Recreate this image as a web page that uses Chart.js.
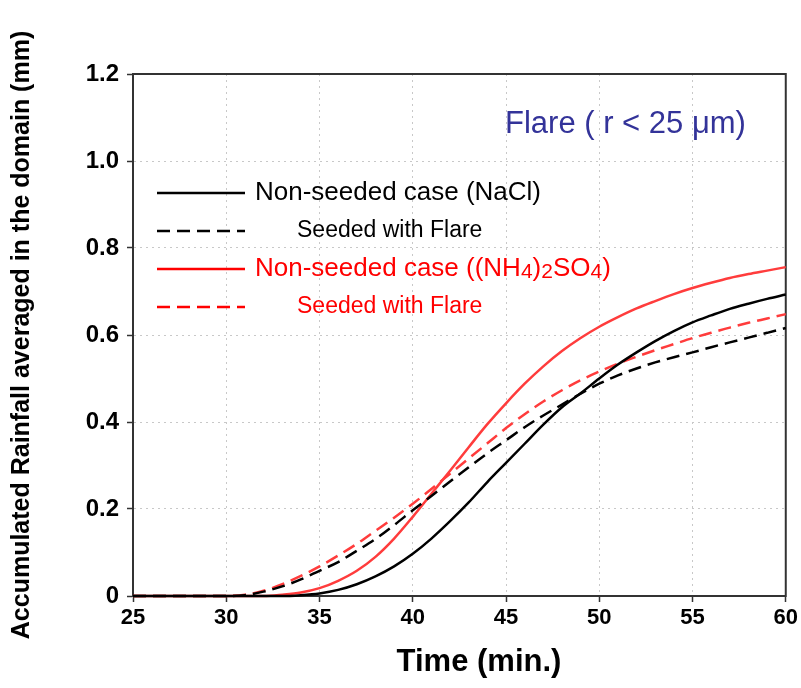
<!DOCTYPE html>
<html>
<head>
<meta charset="utf-8">
<script src="https://cdn.jsdelivr.net/npm/chart.js@4/dist/chart.umd.min.js"></script>
<style>
  html, body { margin: 0; padding: 0; background: #fff; }
  #wrap { width: 801px; height: 688px; }
</style>
</head>
<body>
<div id="wrap"><canvas id="grafico"></canvas></div>
<script>
// tiempo (min.)
const minutes = [25, 26, 27, 28, 29, 30, 31, 32, 33, 34, 35, 36, 37, 38, 39, 40, 41, 42,
  43, 44, 45, 46, 47, 48, 49, 50, 51, 52, 53, 54, 55, 56, 57, 58, 59, 60];

// lluvia acumulada (mm)
const nonSeededNaCl = [0, 0, 0, 0, 0, 0, 0, 0, 0, 0.002, 0.006, 0.014, 0.027, 0.045, 0.068, 0.097,
  0.132, 0.172, 0.215, 0.262, 0.306, 0.350, 0.394, 0.434, 0.466, 0.500, 0.532, 0.560, 0.586,
  0.609, 0.629, 0.645, 0.660, 0.672, 0.683, 0.693];
const seededNaCl = [0, 0, 0, 0, 0, 0, 0.002, 0.010, 0.022, 0.038, 0.058, 0.078, 0.104, 0.131,
  0.163, 0.197, 0.230, 0.263, 0.296, 0.328, 0.358, 0.388, 0.415, 0.440, 0.465, 0.488, 0.507,
  0.523, 0.537, 0.549, 0.560, 0.572, 0.583, 0.594, 0.605, 0.616];
const nonSeededNH4 = [0, 0, 0, 0, 0, 0, 0, 0, 0.003, 0.008, 0.018, 0.035, 0.058, 0.090, 0.132,
  0.182, 0.235, 0.288, 0.342, 0.395, 0.443, 0.488, 0.528, 0.563, 0.593, 0.619, 0.641, 0.661,
  0.678, 0.694, 0.708, 0.720, 0.731, 0.740, 0.748, 0.756];
const seededNH4 = [0, 0, 0, 0, 0, 0, 0.003, 0.012, 0.027, 0.046, 0.068, 0.093, 0.120, 0.150,
  0.180, 0.212, 0.246, 0.281, 0.316, 0.351, 0.386, 0.418, 0.447, 0.473, 0.496, 0.516, 0.534,
  0.550, 0.565, 0.579, 0.593, 0.605, 0.617, 0.628, 0.638, 0.648];

const xTicks = [25, 30, 35, 40, 45, 50, 55, 60];
const yTicks = [0, 0.2, 0.4, 0.6, 0.8, 1.0, 1.2];

const legendLabels = [
  "Non-seeded case (NaCl)",
  "Seeded with Flare",
  "Non-seeded case ((NH4)2SO4)",
  "Seeded with Flare"
];
const titulo = "Flare ( r < 25 \u03BCm)";
const tituloX = "Time (min.)";

const negro = "#000000";
const rojo = "#ff3c3c";
const guion = [13, 7];
const fuente = "'Liberation Sans', Arial, sans-serif";

const serie = (label, data, color, dash) => ({
  label,
  data: minutes.map((m, i) => ({ x: m, y: data[i] })),
  borderColor: color,
  borderWidth: 2.5,
  borderDash: dash,
  pointRadius: 0,
  fill: false,
  clip: 4,
  cubicInterpolationMode: "monotone"
});

// marco, leyenda y titulos dibujados a mano
const leyendaPlugin = {
  id: "leyenda",
  beforeDatasetsDraw(chart) {
    const ctx = chart.ctx;
    const area = chart.chartArea;
    ctx.save();
    ctx.strokeStyle = "#333";
    ctx.lineWidth = 2;
    ctx.strokeRect(area.left, area.top, area.right - area.left, area.bottom - area.top);
    ctx.restore();
  },
  afterDatasetsDraw(chart) {
    const ctx = chart.ctx;
    ctx.save();
    const filas = [
      { y: 193, tx: 255, size: 26, w: 286, color: "#000" },
      { y: 231, tx: 297, size: 23, w: 187, color: "#000" },
      { y: 269, tx: 255, size: 26, w: 358, color: "#ff0000" },
      { y: 307, tx: 297, size: 23, w: 187, color: "#ff0000" }
    ];
    chart.data.datasets.forEach((ds, i) => {
      const f = filas[i];
      ctx.strokeStyle = i < 2 ? "#000" : "#ff0000";
      ctx.lineWidth = 2.5;
      ctx.setLineDash(ds.borderDash || []);
      ctx.beginPath();
      ctx.moveTo(157, f.y);
      ctx.lineTo(245, f.y);
      ctx.stroke();
      ctx.setLineDash([]);
      ctx.fillStyle = f.color;
      ctx.textBaseline = "middle";
      ctx.textAlign = "left";
      if (i === 2) {
        // subindices en (NH4)2SO4
        const partes = [["Non-seeded case ((NH", 0], ["4", 1], [")", 0], ["2", 1], ["SO", 0], ["4", 1], [")", 0]];
        let x = f.tx;
        partes.forEach(([t, sub]) => {
          ctx.font = (sub ? 21 : f.size) + "px " + fuente;
          ctx.fillText(t, x, f.y + (sub ? 3 : 0));
          x += ctx.measureText(t).width;
        });
      } else {
        ctx.font = f.size + "px " + fuente;
        ctx.fillText(legendLabels[i], f.tx, f.y, f.w);
      }
    });

    ctx.fillStyle = "#333399";
    ctx.font = "31px " + fuente;
    ctx.textBaseline = "middle";
    ctx.fillText(titulo, 505, 124, 245);

    ctx.fillStyle = "#000";
    ctx.font = "bold 31px " + fuente;
    ctx.textAlign = "center";
    ctx.fillText(tituloX, 479, 662);
    ctx.restore();
  }
};

const config = {
  type: "line",
  data: {
    datasets: [
      serie(legendLabels[0], nonSeededNaCl, negro, []),
      serie(legendLabels[1], seededNaCl, negro, guion),
      serie(legendLabels[2], nonSeededNH4, rojo, []),
      serie(legendLabels[3], seededNH4, rojo, guion)
    ]
  },
  options: {
    responsive: true,
    maintainAspectRatio: false,
    animation: false,
    layout: { padding: { top: 74, right: 14, left: 0, bottom: 0 } },
    plugins: { legend: { display: false }, tooltip: { enabled: false } },
    scales: {
      x: {
        type: "linear",
        min: 25,
        max: 60,
        afterFit: (s) => { s.height = 92; },
        afterBuildTicks: (s) => { s.ticks = xTicks.map((v) => ({ value: v })); },
        grid: { color: "#c8c8c8", tickColor: "#333", tickLength: 6, tickWidth: 1.5 },
        border: { display: true, color: "#333", width: 2, dash: [2, 4] },
        ticks: {
          color: "#000",
          padding: 3,
          font: { family: fuente, size: 22, weight: "bold" }
        }
      },
      y: {
        type: "linear",
        min: 0,
        max: 1.2,
        afterFit: (s) => { s.width = 133; },
        afterBuildTicks: (s) => { s.ticks = yTicks.map((v) => ({ value: v })); },
        grid: { color: "#c8c8c8", tickColor: "#333", tickLength: 6, tickWidth: 1.5 },
        border: { display: true, color: "#333", width: 2, dash: [2, 4] },
        ticks: {
          color: "#000",
          padding: 8,
          font: { family: fuente, size: 24, weight: "bold" },
          callback: (v) => (v === 0 ? "0" : v.toFixed(1))
        },
        title: {
          display: true,
          text: "Accumulated Rainfall averaged in the domain (mm)",
          color: "#000",
          padding: { top: 7, bottom: 0 },
          font: { family: fuente, size: 25, weight: "bold" }
        }
      }
    }
  },
  plugins: [leyendaPlugin]
};

new Chart(document.getElementById("grafico"), config);
</script>
</body>
</html>
